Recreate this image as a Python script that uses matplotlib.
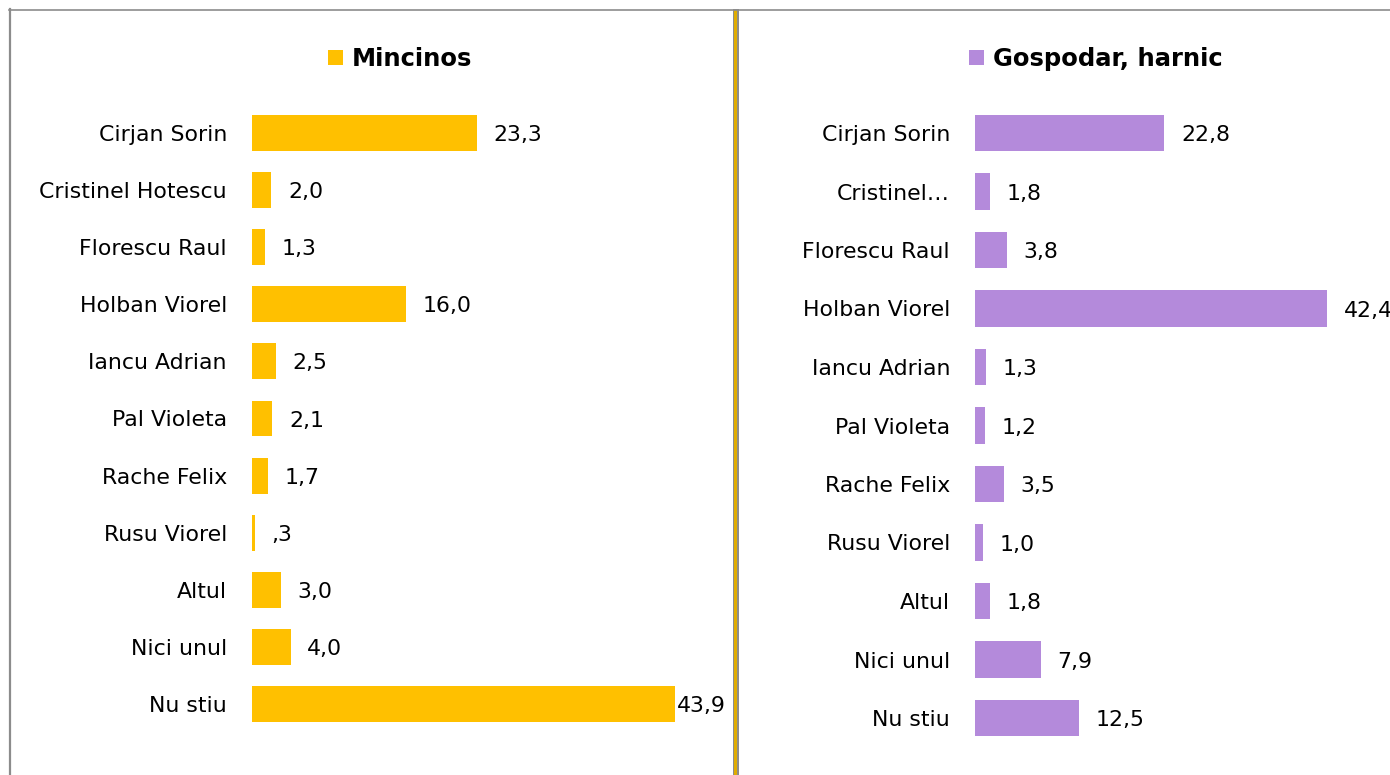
import matplotlib
matplotlib.use("Agg")
import matplotlib.pyplot as plt
from matplotlib.patches import Patch, Rectangle
from matplotlib.lines import Line2D

plt.rcParams['font.family'] = ['DejaVu Sans']

categories_left = ["Cirjan Sorin", "Cristinel Hotescu", "Florescu Raul", "Holban Viorel",
                   "Iancu Adrian", "Pal Violeta", "Rache Felix", "Rusu Viorel", "Altul",
                   "Nici unul", "Nu stiu"]
values_left = [23.3, 2.0, 1.3, 16.0, 2.5, 2.1, 1.7, 0.3, 3.0, 4.0, 43.9]
title_left = "Mincinos"

categories_right = ["Cirjan Sorin", "Cristinel…", "Florescu Raul", "Holban Viorel",
                    "Iancu Adrian", "Pal Violeta", "Rache Felix", "Rusu Viorel", "Altul",
                    "Nici unul", "Nu stiu"]
values_right = [22.8, 1.8, 3.8, 42.4, 1.3, 1.2, 3.5, 1.0, 1.8, 7.9, 12.5]
title_right = "Gospodar, harnic"

W, H = 1390, 775
fig = plt.figure(figsize=(W / 100, H / 100), dpi=100)


def fmt(v):
    s = f"{v:.1f}".replace(".", ",")
    if s.startswith("0,"):
        s = s[1:]
    return s


def panel(rect_px, xmax, cats, vals, color, title, title_xy):
    x0, y0, x1, y1 = rect_px
    ax = fig.add_axes([x0 / W, 1 - y1 / H, (x1 - x0) / W, (y1 - y0) / H])
    pos = list(range(len(cats)))
    ax.barh(pos, vals, height=0.63, color=color)
    ax.set_ylim(len(cats) - 0.5, -0.5)
    ax.set_xlim(0, xmax)
    ax.set_yticks(pos)
    ax.set_yticklabels(cats, fontsize=15.8, color="#000000")
    for t in ax.get_yticklabels():
        t.set_y(t.get_position()[1])
    ax.tick_params(axis="y", length=0, pad=18)
    ax.set_xticks([])
    for s in ax.spines.values():
        s.set_visible(False)
    ax.patch.set_alpha(0)
    vmax = max(vals)
    for p, v in zip(pos, vals):
        off = 1 if (v == vmax and v > 0.9 * xmax) else 12
        ax.annotate(fmt(v), (v, p), xytext=(off, -1.5), textcoords="offset points",
                    va="center", ha="left", fontsize=15.8, annotation_clip=False)
    fig.legend(handles=[Patch(facecolor=color, edgecolor="none")], labels=[title],
               loc="center", bbox_to_anchor=(title_xy[0] / W, 1 - title_xy[1] / H),
               frameon=False, handlelength=0.62, handleheight=0.62, handletextpad=0.35,
               prop={"weight": "bold", "size": 17.5})
    return ax


panel((252, 104.5, 700, 732.5), 448 / 9.636, categories_left, values_left,
      "#FFC000", title_left, (400, 59))
panel((975, 103.75, 1380, 747.25), 405 / 8.30, categories_right, values_right,
      "#B48ADB", title_right, (1096, 59))

# frame lines
gray = "#8C8C8C"
fig.add_artist(Line2D([9.5 / W, 9.5 / W], [0, 1 - 9 / H], color=gray, lw=1.6,
                      transform=fig.transFigure))
fig.add_artist(Line2D([9 / W, 1], [1 - 9.5 / H, 1 - 9.5 / H], color=gray, lw=1.2,
                      transform=fig.transFigure))
fig.add_artist(Rectangle((732.5 / W, 0), 6.5 / W, 1 - 9 / H, transform=fig.transFigure,
                         facecolor=gray, edgecolor="none"))
fig.add_artist(Rectangle((734.2 / W, 0), 3.0 / W, 1 - 10 / H, transform=fig.transFigure,
                         facecolor="#E0AC00", edgecolor="none"))

fig.savefig("out.png", dpi=100, facecolor="white")
